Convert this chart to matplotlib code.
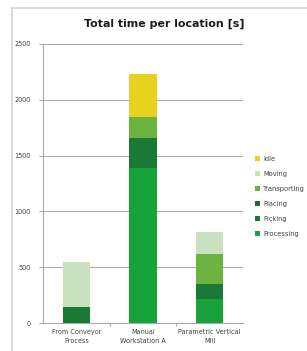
import matplotlib
matplotlib.use("Agg")
import matplotlib.pyplot as plt
from matplotlib.patches import Patch
from matplotlib.lines import Line2D
import numpy as np

categories = ["From Conveyor\nProcess", "Manual\nWorkstation A", "Parametric Vertical\nMill"]
series_names = ["Processing", "Picking", "Placing", "Transporting", "Moving", "Idle"]
processing = [0, 1386, 212]
picking = [141, 274, 135]
placing = [0, 0, 0]
transporting = [0, 183, 271]
moving = [408, 0, 200]
idle = [0, 388, 0]
colors = ["#18a33a", "#1a7a35", "#1c6a34", "#6cb43f", "#c9e2bd", "#e9d21f"]

series = [processing, picking, placing, transporting, moving, idle]

W, H = 307, 351
fig = plt.figure(figsize=(W / 100, H / 100), dpi=100)
ax = fig.add_axes([43 / W, 1 - 323 / H, 200 / W, 279 / H])

x = np.arange(len(categories))
bottom = np.zeros(len(categories))
for name, vals, c in zip(series_names, series, colors):
    ax.bar(x, vals, width=0.41, bottom=bottom, color=c, label=name, zorder=3)
    bottom += np.array(vals)

ax.set_xlim(-0.5, 2.5)
ax.set_ylim(0, 2500)
ax.set_yticks(np.arange(0, 2501, 500))
ax.yaxis.grid(True, color="#ababab", linewidth=0.8, zorder=0)
ax.set_xticks(x)
ax.set_xticklabels(categories, fontsize=4.7, color="#404040", linespacing=1.6)
ax.set_xticks([0.5, 1.5], minor=True)
ax.tick_params(axis="x", which="major", length=0, pad=4)
ax.tick_params(axis="x", which="minor", length=2.5, color="#ababab", width=0.8)
ax.tick_params(axis="y", length=3, color="#ababab", width=0.8, labelsize=4.7,
               labelcolor="#404040", pad=6)
for s in ["top", "right"]:
    ax.spines[s].set_visible(False)
for s in ["left", "bottom"]:
    ax.spines[s].set_color("#ababab")
    ax.spines[s].set_linewidth(0.8)

fig.text(164.5 / W, 1 - 24 / H, "Total time per location [s]", ha="center", va="center",
         fontsize=7.9, fontweight="bold", color="#1a1a1a")

handles = [Patch(facecolor=c, label=n) for n, c in zip(series_names, colors)][::-1]
fig.legend(handles=handles, loc="upper left", bbox_to_anchor=(249 / W, 1 - 150 / H),
           frameon=False, fontsize=4.8, handlelength=0.7, handleheight=0.7,
           handletextpad=0.5, labelspacing=1.35, labelcolor="#404040")

fig.add_artist(Line2D([12 / W, 12 / W], [0, 1 - 8 / H], color="#d4d4d4", linewidth=1.2))
fig.add_artist(Line2D([12 / W, 1], [1 - 8 / H, 1 - 8 / H], color="#d4d4d4", linewidth=1.2))

fig.savefig("out.png", dpi=100)
